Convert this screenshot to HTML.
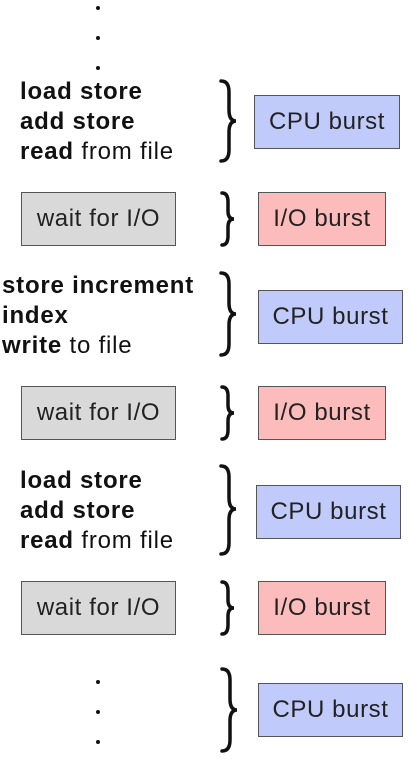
<!DOCTYPE html>
<html><head><meta charset="utf-8"><style>
body{margin:0;width:413px;height:777px;background:#fff;position:relative;overflow:hidden;font-family:"Liberation Sans",sans-serif;color:#111}
.t{position:absolute;font-size:24px;line-height:30px;white-space:nowrap;letter-spacing:0.8px}
.t b{font-weight:bold}
.box{position:absolute;box-sizing:border-box;border:1.5px solid #555;font-size:24px;letter-spacing:0.6px;display:flex;align-items:center;justify-content:center;color:#222}
.cpu{background:#c0cbfb}
.io{background:#fdbcbc}
.w{background:#d9d9d9}
.d{position:absolute;width:4px;height:4px;border-radius:50%;background:#111}
svg{position:absolute;left:0;top:0}
</style></head><body>
<div class="d" style="left:96px;top:6px"></div>
<div class="d" style="left:96px;top:36px"></div>
<div class="d" style="left:96px;top:66px"></div>

<div class="t" style="left:20px;top:77px"><b>load store</b><br><b>add store</b><br><b>read</b> from file</div>
<div class="box cpu" style="left:254px;top:95px;width:146px;height:54px">CPU burst</div>
<div class="box w" style="left:21px;top:192px;width:155px;height:54px">wait for I/O</div>
<div class="box io" style="left:258px;top:192px;width:128px;height:54px">I/O burst</div>

<div class="t" style="left:2px;top:271px"><b>store increment</b><br><b>index</b><br><b>write</b> to file</div>
<div class="box cpu" style="left:258px;top:290px;width:145px;height:54px">CPU burst</div>
<div class="box w" style="left:21px;top:386px;width:155px;height:54px">wait for I/O</div>
<div class="box io" style="left:258px;top:386px;width:128px;height:54px">I/O burst</div>

<div class="t" style="left:20px;top:466px"><b>load store</b><br><b>add store</b><br><b>read</b> from file</div>
<div class="box cpu" style="left:256px;top:485px;width:145px;height:54px">CPU burst</div>
<div class="box w" style="left:21px;top:581px;width:155px;height:54px">wait for I/O</div>
<div class="box io" style="left:258px;top:581px;width:128px;height:54px">I/O burst</div>

<div class="d" style="left:96px;top:680px"></div>
<div class="d" style="left:96px;top:710px"></div>
<div class="d" style="left:96px;top:740px"></div>
<div class="box cpu" style="left:258px;top:683px;width:145px;height:54px">CPU burst</div>

<svg width="413" height="777" fill="none" stroke="#111" stroke-width="3.5" stroke-linecap="round">
<path d="M221,81 Q229,81 229,92 L229,110 Q229,121 236,121 Q229,121 229,132 L229,150 Q229,161 221,161"/>
<path d="M222,193 Q228,193 228,202 L228,211 Q228,219 234,219 Q228,219 228,227 L228,236 Q228,245 222,245"/>
<path d="M221,273 Q229,273 229,284 L229,303 Q229,314 236,314 Q229,314 229,325 L229,344 Q229,355 221,355"/>
<path d="M222,387 Q228,387 228,396 L228,405 Q228,413 234,413 Q228,413 228,421 L228,430 Q228,439 222,439"/>
<path d="M221,466 Q229,466 229,477 L229,498 Q229,509 236,509 Q229,509 229,520 L229,543 Q229,554 221,554"/>
<path d="M222,582 Q228,582 228,591 L228,600 Q228,608 234,608 Q228,608 228,616 L228,625 Q228,634 222,634"/>
<path d="M222,669 Q230,669 230,680 L230,699 Q230,710 237,710 Q230,710 230,721 L230,740 Q230,751 222,751"/>
</svg>
</body></html>
